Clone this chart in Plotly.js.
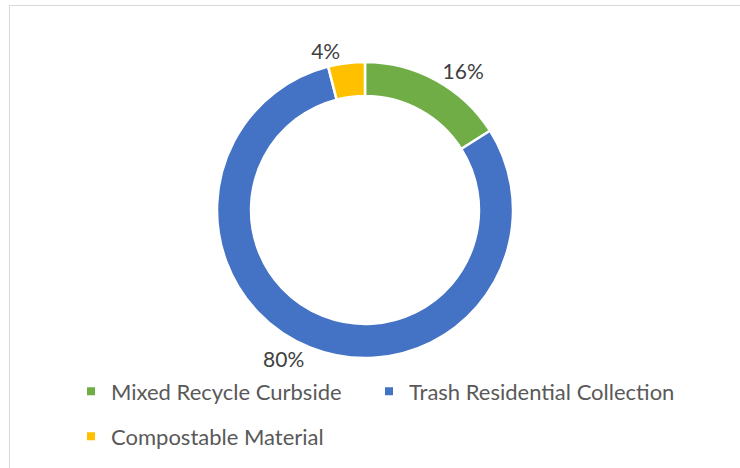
<!DOCTYPE html>
<html>
<head>
<meta charset="utf-8">
<script src="https://cdn.plot.ly/plotly-3.0.1.min.js"></script>
<style>
html,body{margin:0;padding:0;background:#fff;}
#wrap{position:relative;width:740px;height:468px;overflow:hidden;}
#chart{position:absolute;left:0;top:0;width:740px;height:468px;}
#frame{position:absolute;left:9px;top:5px;width:800px;height:600px;border:1.5px solid #D9D9D9;box-sizing:border-box;pointer-events:none;}
</style>
</head>
<body>
<div id="wrap"><div id="chart"></div><div id="frame"></div></div>
<script>
const categories = ["Mixed Recycle Curbside", "Trash Residential Collection", "Compostable Material"];
const shares = [16, 80, 4];
const colors = ["#70AD47", "#4472C4", "#FFC000"];
const legendGroups = ["legend", "legend3", "legend2"];

const FONT = "Lato, 'Open Sans', sans-serif";

const pie = {
  type: "pie",
  labels: categories,
  values: shares,
  sort: false,
  direction: "clockwise",
  rotation: 0,
  hole: 0.77,
  marker: {colors: colors, line: {color: "#ffffff", width: 2.5}},
  textposition: "outside",
  texttemplate: "%{value}%",
  textfont: {family: FONT, size: 21, color: "#404040"},
  showlegend: false,
  hoverinfo: "label+percent",
  domain: {x: [217/740, 513/740], y: [1 - 358/468, 1 - 62/468]}
};

const legendTraces = categories.map((c, i) => ({
  type: "scatter",
  mode: "markers",
  x: [null], y: [null],
  name: c,
  legend: legendGroups[i],
  marker: {symbol: "square", size: 8, color: colors[i]},
  hoverinfo: "skip"
}));

const legendFont = {family: FONT, size: 22, color: "#595959"};
const row1 = 1 - 391.5/468, row2 = 1 - 436.5/468;

const layout = {
  width: 740, height: 468,
  margin: {l: 0, r: 0, t: 0, b: 0},
  paper_bgcolor: "#ffffff",
  plot_bgcolor: "#ffffff",
  xaxis: {visible: false},
  yaxis: {visible: false},
  showlegend: true,
  legend: {orientation: "h", x: 71/740, xanchor: "left", y: row1, yanchor: "middle", font: legendFont, bgcolor: "rgba(0,0,0,0)"},
  legend3: {orientation: "h", x: 369/740, xanchor: "left", y: row1, yanchor: "middle", font: legendFont, bgcolor: "rgba(0,0,0,0)"},
  legend2: {orientation: "h", x: 71/740, xanchor: "left", y: row2, yanchor: "middle", font: legendFont, bgcolor: "rgba(0,0,0,0)"}
};

Plotly.newPlot("chart", [pie, ...legendTraces], layout, {displayModeBar: false, staticPlot: true});
</script>
</body>
</html>
